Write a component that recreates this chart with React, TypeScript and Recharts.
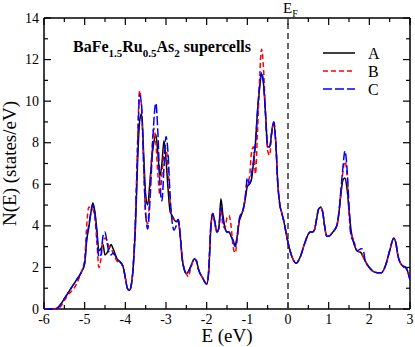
import React from 'react';
import { LineChart, Line, XAxis, YAxis, ReferenceLine, CartesianGrid } from 'recharts';

const energy = [
  -6, -5.8, -5.7, -5.6, -5.5, -5.4, -5.3, -5.2, -5.1, -5.0,
  -4.95, -4.9, -4.85, -4.8, -4.75, -4.7, -4.65, -4.6, -4.55, -4.5,
  -4.45, -4.4, -4.35, -4.3, -4.2, -4.1, -4.05, -4.0, -3.95, -3.9,
  -3.85, -3.8, -3.75, -3.7, -3.65, -3.6, -3.55, -3.5, -3.45, -3.4,
  -3.35, -3.3, -3.25, -3.2, -3.15, -3.1, -3.05, -3.0, -2.95, -2.9,
  -2.85, -2.8, -2.75, -2.7, -2.65, -2.6, -2.55, -2.5, -2.45, -2.4,
  -2.3, -2.25, -2.2, -2.1, -2.0, -1.95, -1.9, -1.85, -1.8, -1.75,
  -1.7, -1.65, -1.6, -1.55, -1.5, -1.45, -1.4, -1.35, -1.3, -1.25,
  -1.2, -1.15, -1.1, -1.05, -1.0, -0.95, -0.9, -0.85, -0.8, -0.75,
  -0.7, -0.65, -0.6, -0.55, -0.5, -0.45, -0.4, -0.35, -0.3, -0.25,
  -0.2, -0.15, -0.1, -0.05, 0, 0.05, 0.1, 0.2, 0.3, 0.4,
  0.5, 0.55, 0.6, 0.65, 0.7, 0.75, 0.8, 0.85, 0.9, 0.95,
  1.0, 1.1, 1.2, 1.25, 1.3, 1.35, 1.4, 1.45, 1.5, 1.55,
  1.6, 1.7, 1.8, 1.85, 1.9, 2.0, 2.1, 2.2, 2.3, 2.4,
  2.5, 2.6, 2.65, 2.7, 2.8, 2.9, 3.0,
];

// supercell A (black, solid)
const dosA = [
  0, 0, 0.02, 0.2, 0.5, 0.8, 1.1, 1.4, 1.7, 2.2,
  3.3, 3.9, 4.6, 5.1, 4.7, 3.8, 2.8, 2.9, 3.1, 2.6,
  2.7, 2.9, 3.1, 2.9, 2.4, 2.2, 2.0, 1.5, 1.0, 0.9,
  1.2, 2.2, 4.0, 7.0, 9.0, 9.4, 7.5, 5.5, 5.0, 6.0,
  7.2, 8.0, 8.4, 7.5, 6.4, 7.0, 8.1, 7.2, 5.8, 4.7,
  4.5, 4.3, 4.2, 4.3, 3.5, 2.4, 1.9, 1.7, 1.8, 2.0,
  2.4, 2.3, 1.9, 1.5, 1.2, 1.8, 3.8, 4.6, 4.2, 3.7,
  3.9, 5.3, 4.5, 3.9, 3.7, 3.7, 3.5, 3.3, 3.0, 3.5,
  4.2, 4.5, 4.8, 5.3, 5.9, 6.0, 6.2, 7.0, 8.0, 9.5,
  10.6, 11.3, 10.8, 9.3, 7.8, 7.8, 8.5, 9.0, 8.0, 6.0,
  5.0, 4.6, 4.2, 3.7, 3.2, 2.8, 2.5, 2.2, 2.5, 3.1,
  3.6, 3.7, 3.7, 3.8, 4.3, 4.8, 4.9, 4.7, 4.0, 3.5,
  3.5, 3.7, 4.0, 4.6, 5.5, 6.2, 6.3, 5.8, 4.8, 3.8,
  3.3, 2.8, 2.7, 2.5, 2.3, 2.0, 1.8, 1.75, 1.75, 2.1,
  2.8, 3.4, 3.2, 2.6, 2.1, 2.0, 1.4,
];

// supercell B (red, dashed)
const dosB = [
  0, 0, 0, 0.1, 0.4, 0.7, 0.9, 1.2, 1.7, 2.4,
  4.0, 4.9, 4.9, 4.8, 4.4, 3.2, 2.0, 2.4, 3.3, 3.4,
  3.3, 3.0, 2.9, 2.7, 2.3, 2.2, 2.0, 1.5, 1.0, 0.9,
  1.2, 2.3, 4.5, 8.0, 10.5, 9.6, 7.0, 4.5, 4.1, 5.5,
  7.5, 8.7, 8.0, 6.5, 5.5, 6.5, 7.5, 7.7, 6.8, 5.2,
  4.4, 4.3, 4.2, 4.3, 3.5, 2.4, 1.9, 1.7, 1.55, 1.9,
  2.4, 2.3, 1.9, 1.5, 1.2, 1.9, 4.0, 4.6, 4.1, 3.7,
  3.9, 4.8, 4.0, 3.9, 4.4, 4.5, 4.0, 3.0, 2.7, 3.3,
  4.3, 4.6, 4.8, 5.4, 6.1, 6.3, 7.5, 7.8, 6.5, 8.5,
  11.0, 12.5, 11.5, 9.3, 7.6, 7.4, 8.5, 9.0, 8.0, 6.0,
  5.0, 4.6, 4.2, 3.7, 3.2, 2.8, 2.5, 2.2, 2.5, 3.1,
  3.6, 3.7, 3.7, 3.8, 4.3, 4.8, 4.9, 4.7, 4.0, 3.5,
  3.5, 3.7, 4.0, 4.6, 5.6, 6.6, 7.1, 6.5, 4.6, 3.6,
  3.4, 2.8, 2.7, 2.5, 2.3, 2.0, 1.8, 1.75, 1.75, 2.1,
  2.8, 3.4, 3.2, 2.6, 2.1, 1.95, 1.5,
];

// supercell C (blue, long dash)
const dosC = [
  0, 0, 0, 0.2, 0.5, 0.8, 1.1, 1.4, 1.7, 2.2,
  3.4, 4.0, 4.6, 5.0, 4.6, 3.6, 2.5, 2.6, 3.5, 3.7,
  3.2, 2.7, 2.6, 2.7, 2.4, 2.2, 2.0, 1.5, 1.0, 0.9,
  1.2, 2.2, 4.3, 7.5, 10.3, 9.8, 7.0, 4.6, 3.85, 5.0,
  7.0, 9.0, 9.9, 8.5, 6.0, 5.2, 6.8, 8.3, 7.5, 5.5,
  4.2, 3.8, 4.0, 4.3, 3.6, 2.4, 1.9, 1.7, 1.8, 2.0,
  2.4, 2.3, 1.9, 1.5, 1.2, 1.8, 3.9, 4.6, 4.2, 3.7,
  3.9, 4.9, 4.3, 3.9, 3.7, 3.7, 3.5, 3.3, 3.0, 3.5,
  4.3, 4.6, 4.8, 5.4, 6.3, 6.0, 6.5, 7.1, 8.0, 9.5,
  10.7, 11.4, 10.8, 9.3, 7.8, 7.8, 8.5, 9.0, 8.0, 6.0,
  5.0, 4.6, 4.2, 3.7, 3.2, 2.8, 2.5, 2.2, 2.5, 3.1,
  3.6, 3.7, 3.7, 3.8, 4.3, 4.8, 4.9, 4.7, 4.0, 3.5,
  3.5, 3.7, 4.0, 4.6, 5.7, 6.8, 7.6, 6.8, 5.0, 3.5,
  3.3, 2.8, 2.9, 2.85, 2.3, 2.0, 1.8, 1.75, 1.75, 2.1,
  2.8, 3.4, 3.2, 2.6, 2.1, 2.0, 1.4,
];

const xTicks = [-6, -5.5, -5, -4.5, -4, -3.5, -3, -2.5, -2, -1.5, -1, -0.5, 0, 0.5, 1, 1.5, 2, 2.5, 3];
const yTicks = [0, 1, 2, 3, 4, 5, 6, 7, 8, 9, 10, 11, 12, 13, 14];

const series = [
  { key: 'A', color: '#000000', dash: undefined },
  { key: 'B', color: '#ff0000', dash: '5 3' },
  { key: 'C', color: '#0000ff', dash: '9 3' },
];

const data = energy.map((e, i) => ({ e, A: dosA[i], B: dosB[i], C: dosC[i] }));

const FONT = "'Liberation Serif', 'Times New Roman', serif";

const bottomLabel = ({ x, y, payload }: any) =>
  Number.isInteger(payload.value) ? (
    <text x={x} y={y + 15} textAnchor="middle" style={{ fontFamily: FONT, fontSize: 14 }} fill="#000">
      {payload.value}
    </text>
  ) : (
    <g />
  );

const leftLabel = ({ x, y, payload }: any) =>
  payload.value % 2 === 0 ? (
    <text x={x - 5} y={y + 4.5} textAnchor="end" style={{ fontFamily: FONT, fontSize: 14 }} fill="#000">
      {payload.value}
    </text>
  ) : (
    <g />
  );

// inward tick marks at both ends of a reference line (frame ticks on all four sides)
const tickPair = (len: number) => (p: any) => {
  const { x1, y1, x2, y2 } = p;
  const dx = Math.sign(x2 - x1);
  const dy = Math.sign(y2 - y1);
  return (
    <g>
      <line x1={x1} y1={y1} x2={x1 + dx * len} y2={y1 + dy * len} stroke="#000" strokeWidth={1.2} />
      <line x1={x2} y1={y2} x2={x2 - dx * len} y2={y2 - dy * len} stroke="#000" strokeWidth={1.2} />
    </g>
  );
};

export default function App() {
  return (
    <div style={{ position: 'absolute', left: 0, top: 0, width: 415, height: 347, background: '#fff' }}>
      <LineChart width={415} height={347} data={data} margin={{ top: 18, right: 5, bottom: 0, left: 0 }}>
        {/* the plot frame */}
        <CartesianGrid
          stroke="#000"
          strokeWidth={1.5}
          horizontalCoordinatesGenerator={({ offset }: any) => [offset.top, offset.top + offset.height]}
          verticalCoordinatesGenerator={({ offset }: any) => [offset.left, offset.left + offset.width]}
        />
        <XAxis
          dataKey="e"
          type="number"
          domain={[-6, 3]}
          ticks={xTicks}
          interval={0}
          height={38}
          tickSize={0}
          tickMargin={0}
          tickLine={false}
          axisLine={false}
          tick={bottomLabel}
          allowDataOverflow
          label={({ viewBox }: any) => (
            <text x={viewBox.x + viewBox.width / 2} y={viewBox.y + 33} textAnchor="middle" style={{ fontFamily: FONT, fontSize: 19 }} fill="#000">
              E (eV)
            </text>
          )}
        />
        <YAxis
          type="number"
          domain={[0, 14]}
          ticks={yTicks}
          interval={0}
          width={44}
          tickSize={0}
          tickMargin={0}
          tickLine={false}
          axisLine={false}
          tick={leftLabel}
          label={({ viewBox }: any) => {
            const cx = viewBox.x + 16;
            const cy = viewBox.y + viewBox.height / 2;
            return (
              <text x={cx} y={cy} transform={`rotate(-90 ${cx} ${cy})`} textAnchor="middle" style={{ fontFamily: FONT, fontSize: 19 }} fill="#000">
                N(E) (states/eV)
              </text>
            );
          }}
        />
        {xTicks.map((v) => (
          <ReferenceLine key={`xt${v}`} x={v} shape={tickPair(Number.isInteger(v) ? 7 : 4)} />
        ))}
        {yTicks.map((v) => (
          <ReferenceLine key={`yt${v}`} y={v} shape={tickPair(v % 2 === 0 ? 7 : 4)} />
        ))}
        <ReferenceLine
          x={0}
          stroke="#333"
          strokeWidth={1.5}
          strokeDasharray="6 4"
          label={({ viewBox }: any) => (
            <text x={viewBox.x - 5} y={viewBox.y - 5} style={{ fontFamily: FONT, fontSize: 15 }} fill="#000">
              E<tspan dy={4} fontSize={10}>F</tspan>
            </text>
          )}
        />
        {series.map((s) => (
          <Line
            key={s.key}
            dataKey={s.key}
            type="monotone"
            stroke={s.color}
            strokeWidth={1.5}
            strokeDasharray={s.dash}
            dot={false}
            isAnimationActive={false}
          />
        ))}
        {/* legend, drawn as svg so it does not take room from the plot */}
        <g transform="translate(320, 44)">
          {series.map((s, i) => (
            <g key={s.key}>
              <line x1={3} x2={35} y1={9 + i * 18} y2={9 + i * 18} stroke={s.color} strokeWidth={1.5} strokeDasharray={s.dash} />
              <text x={48} y={15 + i * 18} style={{ fontFamily: FONT, fontSize: 16 }} fill="#000">{s.key}</text>
            </g>
          ))}
        </g>
        <text x={73} y={52} style={{ fontFamily: FONT, fontSize: 16, fontWeight: 'bold' }} fill="#000">
          BaFe<tspan dy={5} fontSize={11}>1.5</tspan>
          <tspan dy={-5}>Ru</tspan>
          <tspan dy={5} fontSize={11}>0.5</tspan>
          <tspan dy={-5}>As</tspan>
          <tspan dy={5} fontSize={11}>2</tspan>
          <tspan dy={-5}> supercells</tspan>
        </text>
      </LineChart>
    </div>
  );
}
